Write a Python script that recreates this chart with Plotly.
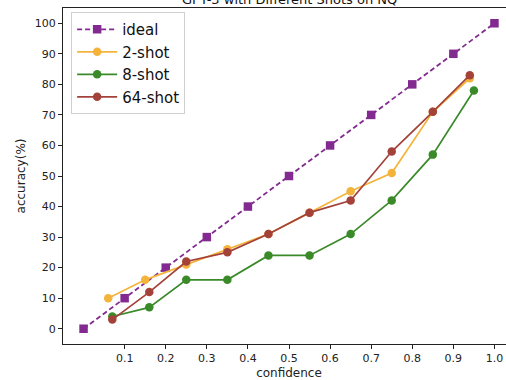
import plotly.graph_objects as go

title_text = "GPT-3 with Different Shots on NQ"

ideal_x = [0.0, 0.1, 0.2, 0.3, 0.4, 0.5, 0.6, 0.7, 0.8, 0.9, 1.0]
ideal_y = [0, 10, 20, 30, 40, 50, 60, 70, 80, 90, 100]

shot2_x = [0.06, 0.15, 0.25, 0.35, 0.45, 0.55, 0.65, 0.75, 0.85, 0.94]
shot2_y = [10, 16, 21, 26, 31, 38, 45, 51, 71, 82]

shot8_x = [0.07, 0.16, 0.25, 0.35, 0.45, 0.55, 0.65, 0.75, 0.85, 0.95]
shot8_y = [4, 7, 16, 16, 24, 24, 31, 42, 57, 78]

shot64_x = [0.07, 0.16, 0.25, 0.35, 0.45, 0.55, 0.65, 0.75, 0.85, 0.94]
shot64_y = [3, 12, 22, 25, 31, 38, 42, 58, 71, 83]

x_ticks = [0.1, 0.2, 0.3, 0.4, 0.5, 0.6, 0.7, 0.8, 0.9, 1.0]
x_tick_labels = ["0.1", "0.2", "0.3", "0.4", "0.5", "0.6", "0.7", "0.8", "0.9", "1.0"]
y_ticks = [0, 10, 20, 30, 40, 50, 60, 70, 80, 90, 100]

PURPLE = "#832a90"
YELLOW = "#f4b43c"
GREEN = "#3a8a2a"
RED = "#a4423a"

fig = go.Figure()
fig.add_trace(go.Scatter(x=ideal_x, y=ideal_y, name="ideal", mode="lines+markers",
                         line=dict(color=PURPLE, width=1.8, dash="5px,3px"),
                         marker=dict(symbol="square", size=8.5, color=PURPLE)))
fig.add_trace(go.Scatter(x=shot2_x, y=shot2_y, name="2-shot", mode="lines+markers",
                         line=dict(color=YELLOW, width=1.7),
                         marker=dict(symbol="circle", size=8.5, color=YELLOW)))
fig.add_trace(go.Scatter(x=shot8_x, y=shot8_y, name="8-shot", mode="lines+markers",
                         line=dict(color=GREEN, width=1.7),
                         marker=dict(symbol="circle", size=8.5, color=GREEN)))
fig.add_trace(go.Scatter(x=shot64_x, y=shot64_y, name="64-shot", mode="lines+markers",
                         line=dict(color=RED, width=1.7),
                         marker=dict(symbol="circle", size=8.5, color=RED)))

font_family = "DejaVu Sans"
fig.update_layout(
    width=515, height=380,
    margin=dict(l=63, r=0, t=8, b=36, autoexpand=False),
    paper_bgcolor="white", plot_bgcolor="white",
    font=dict(family=font_family, size=11, color="#222"),
    showlegend=True,
    legend=dict(x=0.018, y=0.988, xanchor="left", yanchor="top",
                bgcolor="rgba(255,255,255,0.85)", bordercolor="#d0d0d0", borderwidth=1,
                font=dict(size=15, color="#111", family=font_family),
                itemwidth=40, tracegroupgap=0),
    annotations=[dict(text=title_text, xref="paper", yref="paper", x=0.5, y=1,
                      xanchor="center", yanchor="bottom", yshift=-1, showarrow=False,
                      font=dict(size=13, color="#111", family=font_family))],
)
fig.update_xaxes(range=[-0.05, 1.05], tickvals=x_ticks, ticktext=x_tick_labels,
                 showgrid=False, zeroline=False, showline=True, linecolor="#222",
                 linewidth=1, mirror=True, ticks="outside", ticklen=4, tickcolor="#222",
                 automargin=False,
                 title=dict(text="confidence", font=dict(size=12), standoff=11))
fig.update_yaxes(range=[-5, 105], tickvals=y_ticks, showgrid=False, zeroline=False,
                 showline=True, linecolor="#222", linewidth=1, mirror=False,
                 ticks="outside", ticklen=4, tickcolor="#222", automargin=False,
                 title=dict(text="accuracy(%)", font=dict(size=12), standoff=6))

fig.write_html("out.html", config={"displayModeBar": False},
               post_script="document.body.style.margin='0';document.body.style.overflow='hidden';")
